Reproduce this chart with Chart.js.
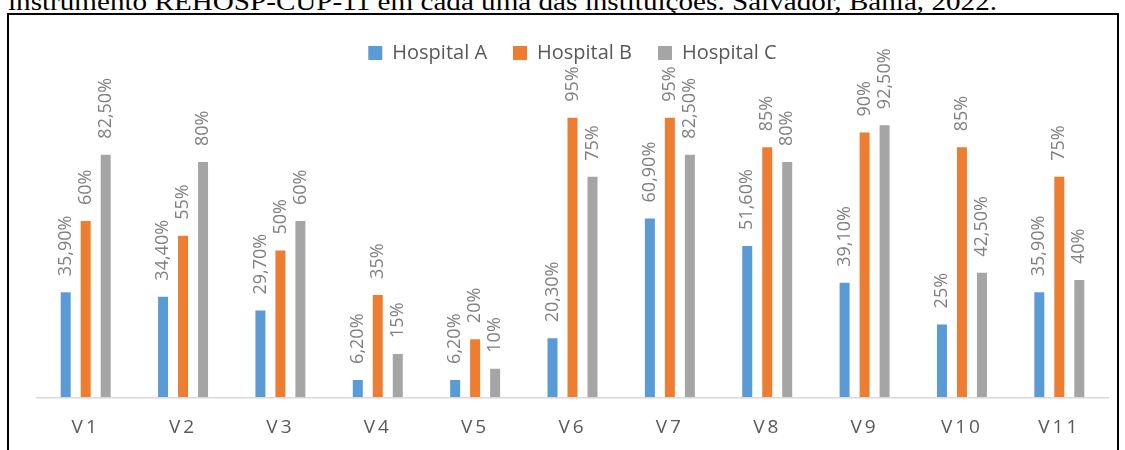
<!DOCTYPE html>
<html>
<head>
<meta charset="utf-8">
<script src="https://cdn.jsdelivr.net/npm/chart.js@4/dist/chart.umd.min.js"></script>
<style>
  html, body { margin: 0; padding: 0; background: #fff; }
  body { width: 1125px; height: 450px; overflow: hidden; position: relative; }
  #caption {
    position: absolute; left: 8px; top: -11px;
    font-family: "Liberation Serif", "Times New Roman", serif;
    font-size: 25px; line-height: 25px; color: #000; white-space: nowrap;
    transform-origin: 0 0;
  }
  #frame {
    position: absolute; left: 7px; top: 13px; width: 1112px; height: 470px;
    border: 2px solid #000; box-sizing: border-box;
  }
  #c { position: absolute; left: 0; top: 0; }
</style>
</head>
<body>
<div id="caption">instrumento REHOSP-CUP-11 em cada uma das instituições. Salvador, Bahia, 2022.</div>
<div id="frame"></div>
<canvas id="c" width="1125" height="466"></canvas>
<script>
// ---- data ----
const categories = ['V1','V2','V3','V4','V5','V6','V7','V8','V9','V10','V11'];
const seriesNames = ['Hospital A','Hospital B','Hospital C'];
const hospitalA = [35.9, 34.4, 29.7, 6.2, 6.2, 20.3, 60.9, 51.6, 39.1, 25, 35.9];
const hospitalB = [60, 55, 50, 35, 20, 95, 95, 85, 90, 85, 75];
const hospitalC = [82.5, 80, 60, 15, 10, 75, 82.5, 80, 92.5, 42.5, 40];
const seriesColors = ['#5B9BD5', '#ED7D31', '#A5A5A5'];

// fit caption width
(function(){
  const cap = document.getElementById('caption');
  const w = cap.getBoundingClientRect().width;
  cap.style.transform = 'scaleX(' + (989 / w) + ')';
})();

function fmt(v) {
  return Number.isInteger(v) ? v + '%' : v.toFixed(2).replace('.', ',') + '%';
}

const valueLabels = {
  id: 'valueLabels',
  afterDatasetsDraw(chart) {
    const ctx = chart.ctx;
    ctx.save();
    ctx.font = '18px "Open Sans"';
    ctx.fillStyle = '#808080';
    ctx.textAlign = 'left';
    ctx.textBaseline = 'middle';
    chart.data.datasets.forEach((ds, di) => {
      const meta = chart.getDatasetMeta(di);
      meta.data.forEach((bar, i) => {
        ctx.save();
        ctx.translate(bar.x, bar.y - 16);
        ctx.rotate(-Math.PI / 2);
        ctx.fillText(fmt(ds.data[i]), 0, 0);
        ctx.restore();
      });
    });
    ctx.restore();
    // spaced x-axis labels (tick labels drawn after datasets, ticks.z = 1)
    ctx.letterSpacing = '3px';
  },
  afterDraw(chart) {
    chart.ctx.letterSpacing = '0px';
  }
};

new Chart(document.getElementById('c'), {
  type: 'bar',
  data: {
    labels: categories,
    datasets: [
      { label: seriesNames[0], data: hospitalA, backgroundColor: seriesColors[0], borderWidth: 0 },
      { label: seriesNames[1], data: hospitalB, backgroundColor: seriesColors[1], borderWidth: 0 },
      { label: seriesNames[2], data: hospitalC, backgroundColor: seriesColors[2], borderWidth: 0 }
    ]
  },
  options: {
    responsive: false,
    animation: false,
    devicePixelRatio: 1,
    datasets: { bar: { categoryPercentage: 0.616, barPercentage: 0.5 } },
    layout: { padding: { top: 17, left: 37, right: 17, bottom: 9 } },
    plugins: {
      tooltip: { enabled: false },
      legend: {
        position: 'top',
        align: 'center',
        labels: {
          boxWidth: 14, boxHeight: 14, padding: 26,
          color: '#595959',
          font: { family: '"Open Sans"', size: 20 }
        }
      },
      title: {
        display: true, text: '', position: 'top', weight: 500,
        font: { size: 10 }, padding: { top: 9, bottom: 9 }
      }
    },
    scales: {
      x: {
        grid: { display: false, drawTicks: false },
        border: { display: true, color: '#D9D9D9', width: 1.5, z: 1 },
        ticks: { z: 1, color: '#595959', font: { family: '"Open Sans"', size: 19 }, padding: 18, maxRotation: 0, autoSkip: false }
      },
      y: {
        display: false, min: 0, max: 100,
        grid: { display: false }
      }
    }
  },
  plugins: [valueLabels]
});
</script>
</body>
</html>
